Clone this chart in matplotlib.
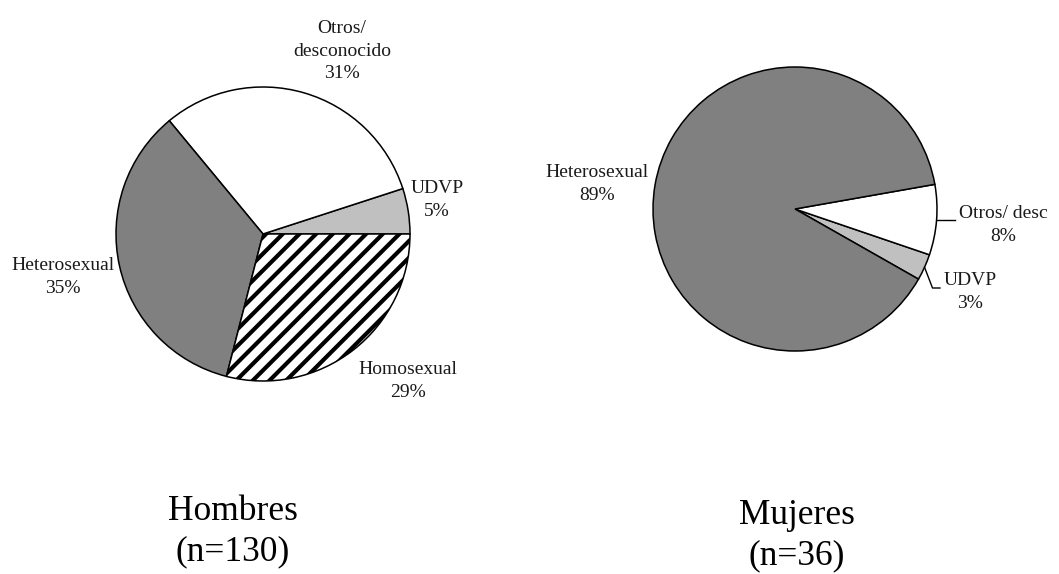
import numpy as np
import matplotlib
matplotlib.use('Agg')
import matplotlib.pyplot as plt

plt.rcParams['font.family'] = ['Liberation Serif', 'DejaVu Serif']
plt.rcParams['hatch.linewidth'] = 3.0

# data
hombres_cats = ['UDVP', 'Otros/\ndesconocido', 'Heterosexual', 'Homosexual']
hombres_vals = [5, 31, 35, 29]
mujeres_cats = ['UDVP', 'Otros/ desc', 'Heterosexual']
mujeres_vals = [3, 8, 89]

hombres_colors = ['#c0c0c0', 'white', '#808080', 'white']
hombres_hatch = [None, None, None, '//']
mujeres_colors = ['#c0c0c0', 'white', '#808080']

fig = plt.figure(figsize=(10.59, 5.74), dpi=100)
ax = fig.add_axes([0, 0, 1, 1])

H = 574
c1 = (263, H - 234)
r1 = 147
c2 = (795, H - 209)
r2 = 142

wedges1, _ = ax.pie(hombres_vals, colors=hombres_colors, startangle=0,
                    center=c1, radius=r1,
                    wedgeprops=dict(edgecolor='black', linewidth=1.1))
for w, h in zip(wedges1, hombres_hatch):
    if h:
        w.set_hatch(h)

start2 = -360 * mujeres_vals[0] / 100 - 360 * mujeres_vals[1] / 100 + 10
wedges2, _ = ax.pie(mujeres_vals, colors=mujeres_colors, startangle=start2,
                    center=c2, radius=r2,
                    wedgeprops=dict(edgecolor='black', linewidth=1.1))

ax.set_xlim(0, 1059)
ax.set_ylim(0, H)
ax.set_aspect('equal')
ax.axis('off')

fs = 14
# labels for Hombres
lab1_pos = [(437, 200), (342, 51), (63, 277), (408, 381)]
for cat, val, (x, y) in zip(hombres_cats, hombres_vals, lab1_pos):
    ax.text(x, H - y, f'{cat}\n{val}%', ha='center', va='center',
            fontsize=fs, color='#1a1a1a', linespacing=1.45)

# labels for Mujeres
lab2_pos = [(970, 292), (1003, 225), (597, 184)]
for cat, val, (x, y) in zip(mujeres_cats, mujeres_vals, lab2_pos):
    ax.text(x, H - y, f'{cat}\n{val}%', ha='center', va='center',
            fontsize=fs, color='#1a1a1a', linespacing=1.45)

# leader lines for small slices of Mujeres
def edge_point(w, c, r):
    a = np.deg2rad((w.theta1 + w.theta2) / 2)
    return c[0] + r * np.cos(a), c[1] + r * np.sin(a)

ex, ey = edge_point(wedges2[1], c2, r2)
ax.plot([ex, 955], [ey, ey], color='black', lw=1)
ex, ey = edge_point(wedges2[0], c2, r2)
ax.plot([ex, ex + 8, 940], [ey, H - 288, H - 288], color='black', lw=1)

# titles
ax.text(233, H - 532, 'Hombres\n(n=130)', ha='center', va='center',
        fontsize=25.5, linespacing=1.3)
ax.text(797, H - 536, 'Mujeres\n(n=36)', ha='center', va='center',
        fontsize=25.5, linespacing=1.3)

fig.savefig('out.png', dpi=100)
